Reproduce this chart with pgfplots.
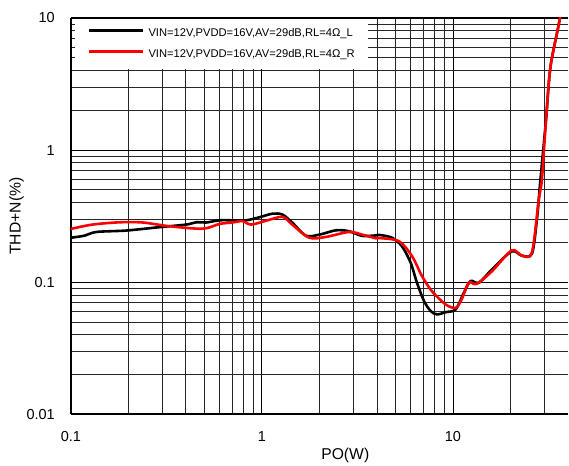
\documentclass[border=0pt]{standalone}
\usepackage{fontspec}
\setmainfont{Liberation Sans}
\usepackage{pgfplots}
\pgfplotsset{compat=1.18}
\begin{document}
\begin{tikzpicture}
\begin{axis}[
 scale only axis, width=498pt, height=397pt,
 xmode=log, ymode=log,
 xmin=0.1, xmax=40, ymin=0.01, ymax=10,
 axis x line=box, axis y line*=left,
 axis line style={line width=2pt},
 xtick={0.1,1,10}, xticklabels={0.1,1,10},
 ytick={0.01,0.1,1,10}, yticklabels={0.01,0.1,1,10},
 minor xtick={0.2,0.3,0.4,0.5,0.6,0.7,0.8,0.9,2,3,4,5,6,7,8,9,20,30},
 minor ytick={0.02,0.03,0.04,0.05,0.06,0.07,0.08,0.09,0.2,0.3,0.4,0.5,0.6,0.7,0.8,0.9,2,3,4,5,6,7,8,9},
 major tick length=0pt, minor tick length=0pt,
 grid=both,
 major grid style={black, line width=0.9pt},
 minor grid style={black!85, line width=0.8pt},
 /pgf/number format/assume math mode=true,
 tick label style={font=\fontsize{14.5}{17}\selectfont},
 xticklabel style={inner sep=0pt, anchor=north, yshift=-17pt},
 yticklabel style={inner sep=0pt, anchor=east, xshift=-16pt},
 xlabel={PO(W)}, ylabel={THD+N(\%)},
 label style={font=\fontsize{15.7}{18}\selectfont},
 xlabel style={at={(axis description cs:0.552,-0.1033)}, anchor=center},
 ylabel style={at={(axis description cs:-0.1094,0.5)}, anchor=center},
 legend style={at={(axis description cs:0.008,1)}, anchor=north west, yshift=-1pt,
   draw=none, fill=white, inner xsep=13pt, inner ysep=9.5pt, row sep=11pt, column sep=4pt,
   font=\fontsize{11.2}{13}\selectfont,
   nodes={inner sep=0pt, text height=8pt, text depth=2pt}},
 legend cell align=left,
 legend image code/.code={\draw[#1] (0pt,3pt) -- (54pt,3pt);},
]
\addplot[black, line width=2.6pt, smooth, tension=0.5] coordinates {
(0.1,0.217) (0.118,0.225) (0.136,0.240) (0.195,0.246) (0.292,0.261) (0.402,0.273)
(0.453,0.284) (0.511,0.283) (0.600,0.294) (0.702,0.294) (0.827,0.294) (0.970,0.31)
(1.135,0.330) (1.28,0.325) (1.44,0.283) (1.70,0.225) (2.0,0.229) (2.44,0.247)
(2.86,0.243) (3.35,0.224) (3.95,0.226) (4.11,0.228) (4.80,0.217) (5.41,0.187)
(6.01,0.140) (6.48,0.099) (7.06,0.0718) (7.65,0.0604) (8.25,0.057) (9.16,0.0593)
(10.33,0.0622) (11.4,0.0832) (12.36,0.102) (13.67,0.099) (16.0,0.125) (20.3,0.171)
(22.9,0.159) (25.9,0.164) (27.5,0.298) (28.7,0.597) (30.7,1.7) (32.4,4.29) (36.5,10.5) (40,30)
};
\addlegendentry{VIN=12V,PVDD=16V,AV=29dB,RL=4Ω\_L}
\addplot[red, line width=2.6pt, smooth, tension=0.5] coordinates {
(0.1,0.253) (0.130,0.273) (0.180,0.284) (0.238,0.283) (0.329,0.265) (0.489,0.254)
(0.600,0.276) (0.702,0.283) (0.791,0.29) (0.878,0.273) (1.052,0.292) (1.28,0.312)
(1.44,0.273) (1.77,0.217) (2.16,0.22) (2.86,0.240) (3.35,0.229) (3.95,0.215)
(4.11,0.216) (5.22,0.204) (6.11,0.157) (6.89,0.111) (7.76,0.0855) (9.16,0.0678)
(10.33,0.064) (11.1,0.074) (12.1,0.099) (13.3,0.097) (16.0,0.121) (20.3,0.174)
(22.9,0.159) (25.9,0.168) (28.1,0.42) (29.2,0.597) (30.7,1.70) (32.4,4.29) (36.5,10.5) (40,30)
};
\addlegendentry{VIN=12V,PVDD=16V,AV=29dB,RL=4Ω\_R}
\end{axis}
\path (current axis.south west) ++(-71pt,-50pt);
\path (current axis.north east) ++(0pt,18pt);
\end{tikzpicture}
\end{document}
